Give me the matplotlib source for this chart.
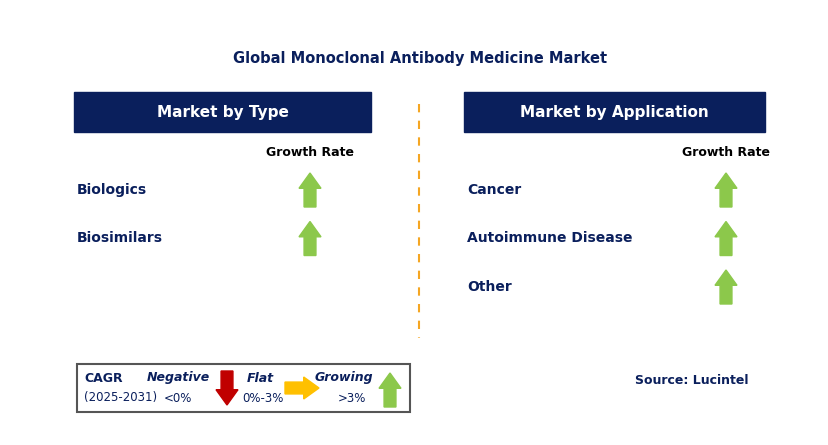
import matplotlib.pyplot as plt
from matplotlib.patches import Rectangle, Polygon

title = "Global Monoclonal Antibody Medicine Market"
type_header = "Market by Type"
type_items = ["Biologics", "Biosimilars"]
type_trend = ["up", "up"]
app_header = "Market by Application"
app_items = ["Cancer", "Autoimmune Disease", "Other"]
app_trend = ["up", "up", "up"]
source = "Source: Lucintel"

NAVY = "#0a1f5c"
GREEN = "#8cc84b"
RED = "#c00000"
YELLOW = "#ffc000"

fig = plt.figure(figsize=(8.29, 4.45), dpi=100)
ax = fig.add_axes([0, 0, 1, 1])
ax.set_xlim(0, 829)
ax.set_ylim(445, 0)
ax.axis("off")
font = "DejaVu Sans"


def arrow(cx, cy, direction, color, w=22, h=34):
    # arrow centred on (cx, cy), head ~ 45% of length
    hw, sw, hl = w / 2, w * 0.27, h * 0.45
    if direction == "up":
        pts = [(cx, cy - h / 2), (cx + hw, cy - h / 2 + hl), (cx + sw, cy - h / 2 + hl),
               (cx + sw, cy + h / 2), (cx - sw, cy + h / 2), (cx - sw, cy - h / 2 + hl),
               (cx - hw, cy - h / 2 + hl)]
    elif direction == "down":
        pts = [(cx, cy + h / 2), (cx + hw, cy + h / 2 - hl), (cx + sw, cy + h / 2 - hl),
               (cx + sw, cy - h / 2), (cx - sw, cy - h / 2), (cx - sw, cy + h / 2 - hl),
               (cx - hw, cy + h / 2 - hl)]
    else:  # right
        pts = [(cx + h / 2, cy), (cx + h / 2 - hl, cy - hw), (cx + h / 2 - hl, cy - sw),
               (cx - h / 2, cy - sw), (cx - h / 2, cy + sw), (cx + h / 2 - hl, cy + sw),
               (cx + h / 2 - hl, cy + hw)]
    ax.add_patch(Polygon(pts, closed=True, color=color))


ax.text(420, 58, title, ha="center", va="center", fontsize=10.5, fontweight="bold",
        color=NAVY, family=font)


def panel(x0, x1, header, items, trends, arrow_x):
    ax.add_patch(Rectangle((x0, 92), x1 - x0, 40, color=NAVY))
    ax.text((x0 + x1) / 2, 112, header, ha="center", va="center", fontsize=11,
            fontweight="bold", color="white", family=font)
    ax.text(arrow_x, 152, "Growth Rate", ha="center", va="center", fontsize=9,
            fontweight="bold", color="black", family=font)
    for i, (item, tr) in enumerate(zip(items, trends)):
        y = 190 + i * 48.5
        ax.text(x0 + 3, y, item, ha="left", va="center", fontsize=10,
                fontweight="bold", color=NAVY, family=font)
        arrow(arrow_x, y, tr, GREEN)


panel(74, 371, type_header, type_items, type_trend, 310)
panel(464, 765, app_header, app_items, app_trend, 726)

ax.plot([419, 419], [104, 338], color="#f5a623", lw=1.5, ls=(0, (4, 4)))

# CAGR legend
ax.add_patch(Rectangle((77, 364), 333, 48, fill=False, ec="#555555", lw=1.5))
ax.text(84, 379, "CAGR", fontsize=9, fontweight="bold", color=NAVY, va="center", family=font)
ax.text(84, 397, "(2025-2031)", fontsize=8.5, color=NAVY, va="center", family=font)
ax.text(178, 378, "Negative", fontsize=9, fontweight="bold", style="italic", color=NAVY,
        ha="center", va="center", family=font)
ax.text(178, 399, "<0%", fontsize=8.5, color=NAVY, ha="center", va="center", family=font)
arrow(227, 388, "down", RED, w=22, h=34)
ax.text(260, 378, "Flat", fontsize=9, fontweight="bold", style="italic", color=NAVY,
        ha="center", va="center", family=font)
ax.text(263, 399, "0%-3%", fontsize=8.5, color=NAVY, ha="center", va="center", family=font)
arrow(302, 388, "right", YELLOW, w=22, h=34)
ax.text(344, 378, "Growing", fontsize=9, fontweight="bold", style="italic", color=NAVY,
        ha="center", va="center", family=font)
ax.text(352, 399, ">3%", fontsize=8.5, color=NAVY, ha="center", va="center", family=font)
arrow(390, 390, "up", GREEN, w=22, h=34)

ax.text(749, 381, source, ha="right", va="center", fontsize=9, fontweight="bold",
        color=NAVY, family=font)

fig.savefig("out.png", dpi=100)
